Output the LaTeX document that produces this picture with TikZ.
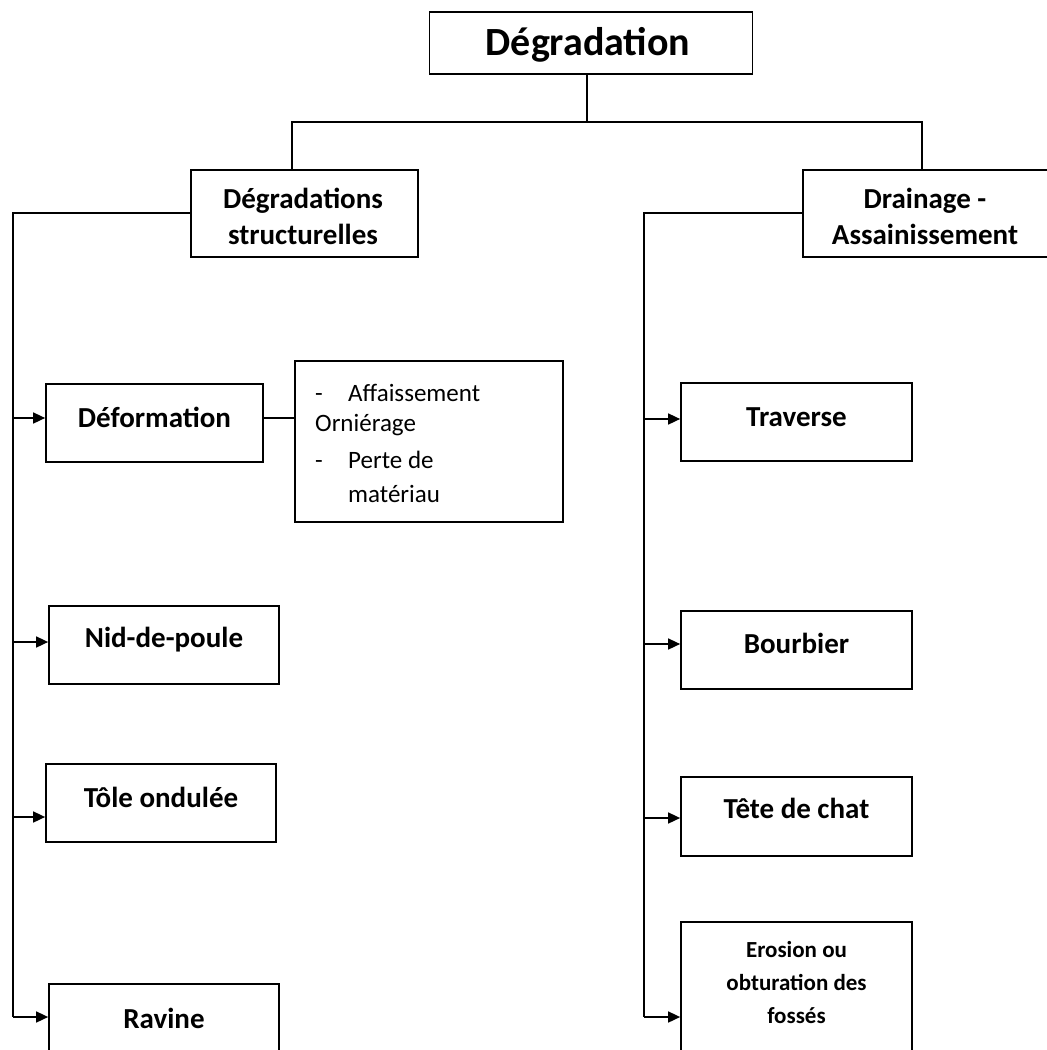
\documentclass[tikz,border=0pt]{standalone}
\usepackage{fontspec}
\setmainfont{Carlito}
\usetikzlibrary{arrows.meta}
\begin{document}
\begin{tikzpicture}[x=1pt,y=-1pt,
  boxst/.style={draw=black,line width=1.7pt,rectangle,inner sep=0pt},
  lbl/.style={font=\bfseries\fontsize{29}{36}\selectfont,align=center,inner sep=0pt},
  small/.style={font=\bfseries\fontsize{23}{33}\selectfont,align=center,inner sep=0pt},
  det/.style={font=\fontsize{25}{30}\selectfont,anchor=base west,inner sep=0pt},
  arr/.style={-{Triangle[length=12pt,width=11pt]}},
  conn/.style={line width=1.6pt}]
\useasboundingbox (0,0) rectangle (1047,1050);
\clip (0,0) rectangle (1047,1050);
% root
\node[boxst,minimum width=323pt,minimum height=62pt] (root) at (591,43) {};
\node[font=\bfseries\fontsize{40}{46}\selectfont,inner sep=0pt] (roott) at (588,45) {Dégradation};
% level 2
\node[boxst,minimum width=227pt,minimum height=87pt] (ds) at (304.5,213.5) {};
\node[lbl] (dst) at (303,216) {Dégradations\\structurelles};
\node[boxst,minimum width=260pt,minimum height=87pt] (da) at (933,213.5) {};
\node[lbl] (dat) at (925,216) {Drainage -\\Assainissement};
% junction
\coordinate (j) at (587,122);
\draw[conn] (root.south -| j) -- (j);
\draw[conn] (ds.north -| 292,0) |- (j) -| (922,0 |- da.north);
% spines
\coordinate (sl) at (13,213);
\coordinate (sr) at (644,213);
\draw[conn] (ds.west |- sl) -- (sl) -- (13,1017);
\draw[conn] (da.west |- sr) -- (sr) -- (644,1017);
% left leaves
\node[boxst,minimum width=217pt,minimum height=78pt] (def) at (154.5,423) {};
\node[lbl] (deft) at (154.5,417) {Déformation};
\node[boxst,minimum width=230pt,minimum height=78pt] (nid) at (164,645) {};
\node[lbl] (nidt) at (164,640) {Nid-de-poule};
\node[boxst,minimum width=230pt,minimum height=78pt] (tole) at (161,803) {};
\node[lbl] (tolet) at (161,797) {Tôle ondulée};
\node[boxst,minimum width=230pt,minimum height=120pt] (rav) at (164,1044) {};
\node[lbl] (ravt) at (164,1018) {Ravine};
% detail box
\node[boxst,minimum width=268pt,minimum height=161pt] (detb) at (429,441.5) {};
\node[det] (d1) at (315,401) {-};
\node[det] (d1b) at (348,401) {Affaissement};
\node[det] (d2) at (315,431) {Orniérage};
\node[det] (d3) at (315,468) {-};
\node[det] (d3b) at (348,468) {Perte de};
\node[det] (d4) at (348,502) {matériau};
\draw[conn] (def.east |- 0,418) -- (detb.west |- 0,418);
% right leaves
\node[boxst,minimum width=231pt,minimum height=78pt] (tra) at (796.5,422) {};
\node[lbl] (trat) at (796.5,417) {Traverse};
\node[boxst,minimum width=231pt,minimum height=78pt] (bou) at (796.5,650) {};
\node[lbl] (bout) at (796.5,643) {Bourbier};
\node[boxst,minimum width=231pt,minimum height=79pt] (tet) at (796.5,816.5) {};
\node[lbl] (tett) at (796.5,808) {Tête de chat};
\node[boxst,minimum width=231pt,minimum height=160pt] (ero) at (796.5,1002) {};
\node[small] (erot) at (796.5,983) {Erosion ou\\obturation des\\fossés};
% arrows
\draw[conn,arr] (13,418) -- (def.west |- 0,418);
\draw[conn,arr] (13,642) -- (nid.west |- 0,642);
\draw[conn,arr] (13,817) -- (tole.west |- 0,817);
\draw[conn,arr] (13,1017) -- (rav.west |- 0,1017);
\draw[conn,arr] (644,419) -- (tra.west |- 0,419);
\draw[conn,arr] (644,644) -- (bou.west |- 0,644);
\draw[conn,arr] (644,818) -- (tet.west |- 0,818);
\draw[conn,arr] (644,1017) -- (ero.west |- 0,1017);
\end{tikzpicture}
\end{document}
